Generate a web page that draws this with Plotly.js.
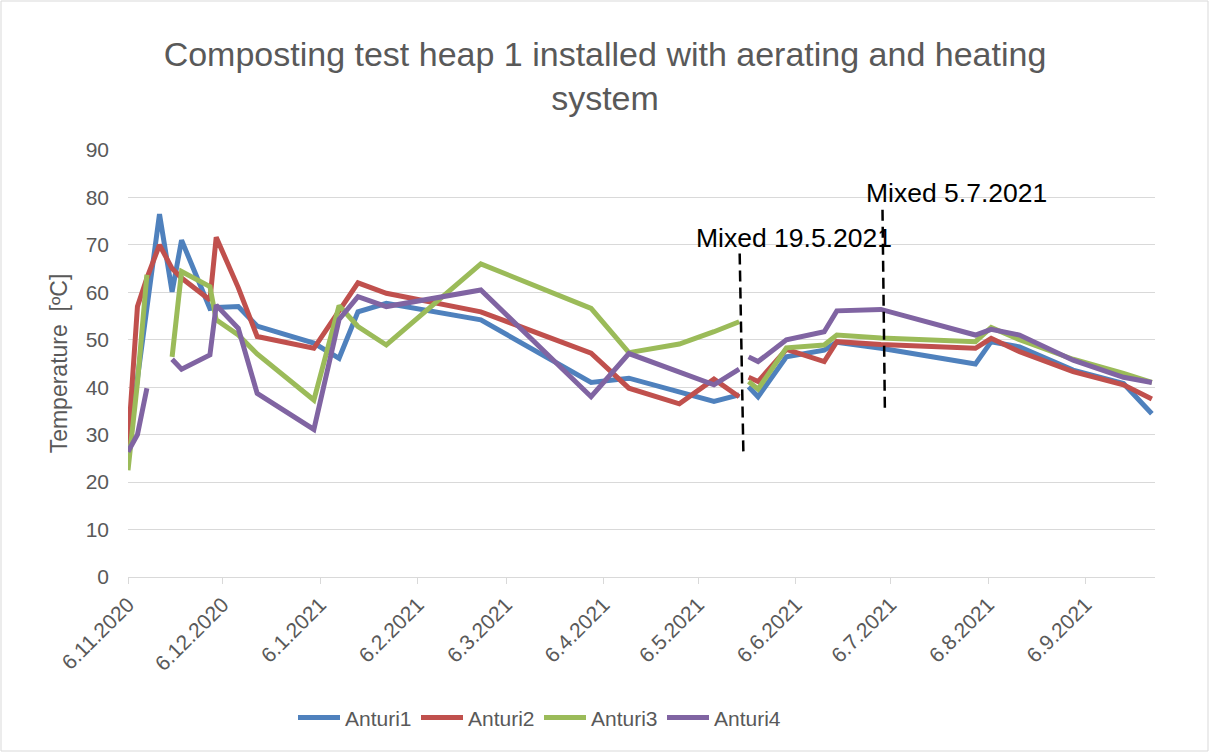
<!DOCTYPE html>
<html>
<head>
<meta charset="utf-8">
<script src="https://cdn.plot.ly/plotly-3.0.1.min.js"></script>
<style>
html,body{margin:0;padding:0;background:#fff;}
#chart{width:1210px;height:753px;}
</style>
</head>
<body>
<div id="chart"></div>
<script>
// ---- Data ----
const dates = ['2020-11-06','2020-11-09','2020-11-12','2020-11-16','2020-11-20','2020-11-23','2020-12-02','2020-12-04','2020-12-11','2020-12-17',
  '2021-01-04','2021-01-12','2021-01-18','2021-01-27','2021-02-26','2021-04-02','2021-04-14','2021-04-30','2021-05-11','2021-05-19',
  '2021-05-20','2021-05-22','2021-05-25','2021-06-03','2021-06-15','2021-06-19','2021-07-03','2021-08-02','2021-08-07','2021-08-16',
  '2021-09-02','2021-09-18','2021-09-27'];
const anturi1 = [27, 42, 58, 76.5, 60.1, 71, 56.6, 56.8, 57, 52.9, 49.3, 46.1, 55.9, 57.7, 54.2, 41.0, 41.9, 39.1, 37.0, 38.4, null, 40.1, 38.0, 46.4, 47.8, 49.5, 48.2, 44.9, 49.6, 48.5, 43.6, 40.8, 34.4];
const anturi2 = [28, 57, 63, 70, 65, 63, 58.4, 71.6, 61, 50.7, 48.2, 56, 62.0, 59.8, 55.9, 47.2, 39.8, 36.5, 41.7, 38.0, null, 42.1, 41.2, 48.0, 45.4, 49.6, 49.0, 48.2, 50.3, 47.5, 43.3, 40.5, 37.5];
const anturi3 = [22.5, 41, 63.7, null, 46.4, 64.4, 61.2, 54.2, 51, 47, 37.3, 57.2, 52.8, 48.9, 66.0, 56.6, 47.3, 49.1, 51.7, 53.8, null, 41.2, 39.6, 48.3, 48.9, 51.0, 50.4, 49.6, 52.6, 50.0, 45.9, 42.9, 41.0];
const anturi4 = [26.4, 30, 39.8, null, 45.9, 43.8, 46.8, 57.3, 52.4, 38.7, 31.1, 54.3, 59.1, 57.0, 60.5, 38.0, 47.1, 43.3, 40.5, 43.8, null, 46.4, 45.4, 50.0, 51.7, 56.1, 56.4, 51.0, 52.2, 51.0, 45.7, 42.1, 41.0];
const seriesNames = ['Anturi1', 'Anturi2', 'Anturi3', 'Anturi4'];
const seriesColors = ['#4F81BD', '#C0504D', '#9BBB59', '#8064A2'];
const mixLabels = ['Mixed 19.5.2021', 'Mixed 5.7.2021'];
const titleText = 'Composting test heap 1 installed with aerating and heating<br>system';
const yTitle = 'Temperature  [ºC]';

const FONT = '"Liberation Sans", Arial, sans-serif';
const GREY = '#595959';

const values = [anturi1, anturi2, anturi3, anturi4];
const traces = values.map((v, i) => ({
  type: 'scatter', mode: 'lines', x: dates, y: v, name: seriesNames[i],
  connectgaps: false,
  line: {color: seriesColors[i], width: 5, shape: 'linear'},
  hoverinfo: 'skip'
}));

const layout = {
  width: 1210, height: 753,
  margin: {l: 128, r: 55, t: 150, b: 176},
  paper_bgcolor: '#fff', plot_bgcolor: '#fff',
  showlegend: true,
  title: {
    text: titleText, x: 0.5, xref: 'container', xanchor: 'center',
    y: 1 - 66/753, yref: 'container', yanchor: 'top',
    font: {family: FONT, size: 34, color: GREY}
  },
  xaxis: {
    type: 'date',
    range: ['2020-11-06', '2021-09-28'],
    tick0: '2020-11-06', dtick: 'M1',
    tickformat: '%-d.%-m.%Y',
    tickangle: -45,
    tickfont: {family: FONT, size: 21, color: GREY},
    showgrid: false,
    showline: true, linecolor: '#D9D9D9', linewidth: 1,
    ticks: 'outside', ticklen: 6, tickcolor: '#D9D9D9', tickwidth: 1,
    zeroline: false, fixedrange: true
  },
  yaxis: {
    range: [0, 90], dtick: 10, tick0: 0,
    tickfont: {family: FONT, size: 21, color: GREY},
    showgrid: true, gridcolor: '#D9D9D9', gridwidth: 1,
    showline: false, zeroline: false,
    ticks: '', ticklabelstandoff: 18,
    title: {text: yTitle, font: {family: FONT, size: 23, color: GREY}, standoff: 11},
    fixedrange: true
  },
  legend: {
    orientation: 'h', x: (293-128)/1027, xanchor: 'left', y: -0.33, yanchor: 'middle',
    font: {family: FONT, size: 21, color: GREY},
    itemwidth: 42, entrywidth: 66, entrywidthmode: 'pixels', tracegroupgap: 0
  },
  shapes: [
    {type: 'line', xref: 'x', yref: 'y', x0: '2021-05-19 04:00', x1: '2021-05-20 08:00', y0: 68.2, y1: 26.3,
     line: {color: '#000', width: 2.5, dash: '11px,6px'}},
    {type: 'line', xref: 'x', yref: 'y', x0: '2021-07-03 12:00', x1: '2021-07-04 06:00', y0: 77.4, y1: 35.6,
     line: {color: '#000', width: 2.5, dash: '11px,6px'}},
    {type: 'rect', xref: 'paper', yref: 'paper', x0: (1-128)/1027, x1: (1208-128)/1027, y0: (577-751)/427, y1: (577-1)/427,
     line: {color: '#D9D9D9', width: 1}, fillcolor: 'rgba(0,0,0,0)', layer: 'below'}
  ],
  annotations: [
    {text: mixLabels[0], xref: 'x', yref: 'y', x: '2021-05-04 14:00', y: 71.5, xanchor: 'left', yanchor: 'middle', showarrow: false,
     font: {family: FONT, size: 26.5, color: '#000'}},
    {text: mixLabels[1], xref: 'x', yref: 'y', x: '2021-06-27 17:00', y: 81, xanchor: 'left', yanchor: 'middle', showarrow: false,
     font: {family: FONT, size: 26.5, color: '#000'}}
  ]
};

Plotly.newPlot('chart', traces, layout, {staticPlot: true, displayModeBar: false});
</script>
</body>
</html>
